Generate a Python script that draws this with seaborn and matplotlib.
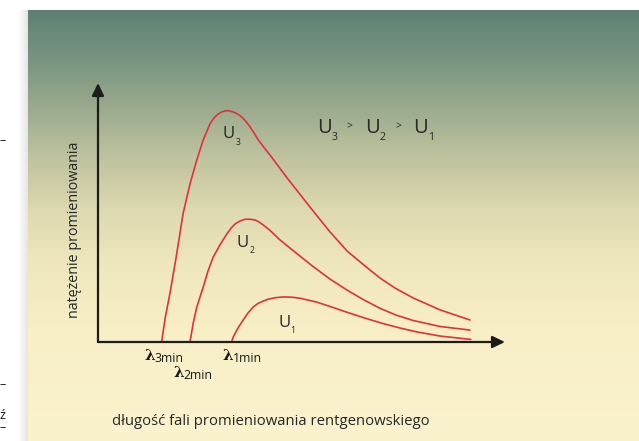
import numpy as np
import pandas as pd
import matplotlib
matplotlib.use("Agg")
import matplotlib.pyplot as plt
import seaborn as sns

# --- spectrum curves (wavelength and intensity in arbitrary units) ---
u3_x = [1.59, 1.68, 1.80, 1.95, 2.13, 2.30, 2.47, 2.63, 2.80, 2.90, 3.00, 3.10, 3.20,
        3.30, 3.40, 3.50, 3.60, 3.70, 3.80, 3.90, 4.00, 4.15, 4.30, 4.73, 5.30, 5.80,
        6.23, 6.68, 7.05, 7.43, 7.88, 8.55, 9.30]
u3_y = [0.00, 0.93, 1.89, 3.24, 4.98, 6.10, 7.03, 7.80, 8.42, 8.65, 8.80, 8.89, 8.93,
        8.92, 8.87, 8.79, 8.68, 8.51, 8.31, 8.07, 7.82, 7.51, 7.22, 6.33, 5.21, 4.25,
        3.51, 2.93, 2.47, 2.08, 1.70, 1.24, 0.85]

u2_x = [2.30, 2.38, 2.47, 2.63, 2.75, 2.88, 3.05, 3.22, 3.33, 3.43, 3.55, 3.68, 3.80,
        3.93, 4.03, 4.13, 4.30, 4.55, 4.95, 5.38, 5.80, 6.22, 6.63, 7.05, 7.45, 7.88,
        8.55, 9.30]
u2_y = [0.00, 0.73, 1.35, 2.12, 2.74, 3.28, 3.75, 4.17, 4.40, 4.56, 4.67, 4.74, 4.74,
        4.71, 4.63, 4.52, 4.31, 3.94, 3.44, 2.91, 2.43, 2.01, 1.64, 1.30, 1.04, 0.83,
        0.60, 0.46]

u1_x = [3.34, 3.38, 3.50, 3.63, 3.75, 3.88, 4.00, 4.13, 4.25, 4.43, 4.63, 4.85, 5.05,
        5.47, 5.88, 6.30, 6.70, 7.13, 7.55, 7.97, 8.55, 9.32]
u1_y = [0.00, 0.19, 0.54, 0.85, 1.12, 1.35, 1.49, 1.58, 1.65, 1.71, 1.74, 1.73, 1.69,
        1.54, 1.33, 1.11, 0.91, 0.71, 0.54, 0.39, 0.23, 0.10]

curve_names = ["U3", "U2", "U1"]
lambda_min = {"U3": u3_x[0], "U2": u2_x[0], "U1": u1_x[0]}

x_label = "długość fali promieniowania rentgenowskiego"
y_label = "natężenie promieniowania"

df = pd.concat([
    pd.DataFrame({"lam": u3_x, "I": u3_y, "U": "U3"}),
    pd.DataFrame({"lam": u2_x, "I": u2_y, "U": "U2"}),
    pd.DataFrame({"lam": u1_x, "I": u1_y, "U": "U1"}),
], ignore_index=True)

sns.set_style("white")
plt.rcParams["font.family"] = ["Open Sans", "DejaVu Sans"]

W, H = 639, 441
fig = plt.figure(figsize=(W / 100, H / 100), dpi=100)
fig.patch.set_facecolor("white")


def fx(px):
    return px / W


def fy(py):
    return 1 - py / H


# panel background: vertical gradient from grey-teal to cream
stop_y = np.array([10, 60, 110, 160, 210, 260, 330, 441])
stop_c = np.array([
    (93, 128, 115), (120, 149, 129), (156, 171, 142), (193, 196, 160),
    (221, 217, 176), (238, 230, 189), (248, 239, 199), (251, 243, 206),
]) / 255.0
rows = np.arange(10, 441) + 0.5
grad = np.stack([np.interp(rows, stop_y, stop_c[:, k]) for k in range(3)], axis=-1)[:, None, :]

shadow = fig.add_axes([fx(18), 0, fx(10), fy(10)])
sh = np.linspace(1.0, 0.9, 20)
shadow.imshow(np.stack([sh, sh, sh], axis=-1)[None, :, :], aspect="auto",
              extent=[0, 1, 0, 1], interpolation="bilinear")
shadow.set_axis_off()

bg = fig.add_axes([fx(28), 0, 1 - fx(28), fy(10)])
bg.imshow(grad, aspect="auto", extent=[0, 1, 0, 1], interpolation="bilinear")
bg.set_axis_off()

# main plotting area
ax = fig.add_axes([fx(98), fy(342), (505 - 98) / W, (342 - 83) / H])
ax.patch.set_alpha(0)
ax.set_xlim(0, (505 - 98) / 40)
ax.set_ylim(0, 10)
ax.set_axis_off()

red = "#e0313c"
sns.lineplot(data=df, x="lam", y="I", hue="U", palette={n: red for n in curve_names},
             estimator=None, sort=False, legend=False, lw=1.2, ax=ax)

arrow_kw = dict(arrowstyle="-|>,head_length=0.75,head_width=0.36", color="#1c1c1c",
                lw=1.6, shrinkA=0, shrinkB=0, mutation_scale=10)
ax.annotate("", xy=(1, 0), xytext=(0, 0), xycoords="axes fraction", arrowprops=arrow_kw)
ax.annotate("", xy=(0, 1), xytext=(0, 0), xycoords="axes fraction", arrowprops=arrow_kw)

txt = "#262626"
u_font = ["Liberation Sans Narrow", "Open Sans", "DejaVu Sans"]


def u_label(xy, coords, idx, size, sub_dx, sub_dy):
    """Letter U with a small lowered index."""
    ax.annotate("U", xy=xy, xycoords=coords, fontsize=size, family=u_font, color=txt,
                ha="left", va="baseline")
    ax.annotate(str(idx), xy=xy, xycoords=coords, xytext=(sub_dx, -sub_dy),
                textcoords="offset pixels", fontsize=size * 0.52, family=u_font,
                color=txt, ha="left", va="baseline")


# curve labels
u_label((3.12, 7.86), "data", 3, 12, 12.8, 6.7)
u_label((3.47, 3.68), "data", 2, 12, 12.3, 6.3)
u_label((4.50, 0.59), "data", 1, 12, 12.5, 6.3)

# lambda_min labels below the axis
lam_off = {"U3": (-16.7, -18), "U2": (-17, -35), "U1": (-8.7, -18)}
lam_sub = {"U3": "3min", "U2": "2min", "U1": "1min"}
for n in curve_names:
    dx, dy = lam_off[n]
    ax.annotate("λ", xy=(lambda_min[n], 0), xytext=(dx, dy), textcoords="offset pixels",
                fontsize=11, family=["DejaVu Serif"], fontweight="bold", color="#1a1a1a",
                ha="left", va="baseline")
    ax.annotate(lam_sub[n], xy=(lambda_min[n], 0), xytext=(dx + 10, dy - 2),
                textcoords="offset pixels", fontsize=8.8, color="#1a1a1a",
                ha="left", va="baseline")

# relation of the tube voltages
for xl, sub in [(316.7, 3), (365, 2), (413, 1)]:
    u_label((fx(xl), fy(133.3)), "figure fraction", sub, 14.5, 15.0, 7)
for xl in [347, 395.5]:
    fig.text(fx(xl), fy(129.5), ">", fontsize=7.5, color=txt, ha="left", va="baseline")

# axis titles
fig.text(fx(75), fy(230), y_label, rotation=90, fontsize=10.3, color=txt,
         ha="center", va="center")
fig.text(fx(270.5), fy(425), x_label, fontsize=10.7, color=txt, ha="center", va="baseline")

# fragments of neighbouring page text on the left margin
for yy in [141, 385, 428]:
    fig.text(fx(5.5), fy(yy), "–", fontsize=9, color="#111111", ha="right", va="center")
fig.text(fx(0), fy(419), "ź", fontsize=9, color="#111111", ha="left", va="baseline")

fig.savefig("out.png", dpi=100)
